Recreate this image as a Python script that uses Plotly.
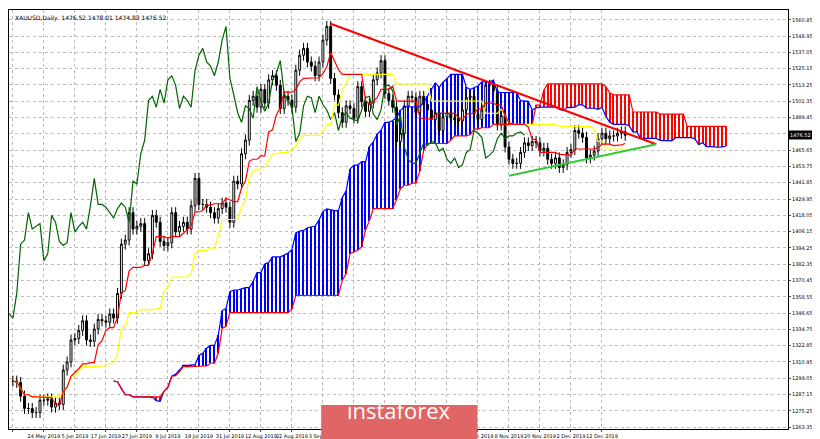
import numpy as np
import pandas as pd
import plotly.graph_objects as go

# daily closes, 14 May 2019 .. 20 Dec 2019 (business days)
closes = [
    1297, 1296, 1286, 1277, 1277, 1274, 1274, 1283, 1283, 1284,
    1278, 1281, 1280, 1305, 1311, 1327, 1328, 1334, 1341, 1327,
    1326, 1335, 1342, 1341, 1340, 1346, 1343, 1361, 1397, 1400,
    1420, 1408, 1410, 1412, 1385, 1390, 1418, 1413, 1399, 1396,
    1398, 1420, 1406, 1410, 1413, 1408, 1425, 1445, 1426, 1426,
    1424, 1420, 1416, 1423, 1427, 1424, 1413, 1443, 1441, 1463,
    1473, 1502, 1505, 1497, 1510, 1500, 1517, 1520, 1513, 1496,
    1505, 1502, 1497, 1524, 1535, 1540, 1530, 1527, 1520, 1530,
    1546, 1556, 1518, 1506, 1493, 1486, 1498, 1496, 1489, 1512,
    1501, 1494, 1500, 1517, 1522, 1531, 1507, 1502, 1497, 1472,
    1478, 1498, 1505, 1504, 1493, 1505, 1499, 1495, 1488, 1493,
    1480, 1490, 1493, 1489, 1488, 1487, 1495, 1504, 1505, 1492,
    1488, 1495, 1513, 1513, 1509, 1484, 1491, 1468, 1459, 1456,
    1456, 1464, 1471, 1469, 1472, 1471, 1465, 1467, 1459, 1456,
    1460, 1453, 1455, 1464, 1466, 1480, 1478, 1475, 1460, 1462,
    1465, 1474, 1478, 1474, 1476, 1476, 1478, 1479, 1476.52,
]
tick_labels = ["14 May 2019", "24 May 2019", "5 Jun 2019", "17 Jun 2019", "27 Jun 2019",
               "9 Jul 2019", "19 Jul 2019", "31 Jul 2019", "12 Aug 2019", "22 Aug 2019",
               "3 Sep 2019", "13 Sep 2019", "25 Sep 2019", "7 Oct 2019", "17 Oct 2019",
               "29 Oct 2019", "8 Nov 2019", "20 Nov 2019", "2 Dec 2019", "12 Dec 2019"]
red_line_x = [82, 166]
red_line_y = [1558, 1470]
green_line_x = [128, 166]
green_line_y = [1447, 1470]
price_ticks = [1263.35 + 11.9 * i for i in range(26)]

n = len(closes)
idx = np.arange(n)
c = pd.Series(closes, dtype=float)
o = c.shift(1).fillna(c.iloc[0])
h = pd.concat([o, c], axis=1).max(axis=1) + 4
l = pd.concat([o, c], axis=1).min(axis=1) - 4

tenkan = (h.rolling(9, min_periods=1).max() + l.rolling(9, min_periods=1).min()) / 2
kijun = (h.rolling(26, min_periods=1).max() + l.rolling(26, min_periods=1).min()) / 2
span_a = ((tenkan + kijun) / 2).values
span_b = ((h.rolling(52, min_periods=1).max() + l.rolling(52, min_periods=1).min()) / 2).values
cloud_x = idx + 26

fig = go.Figure()
bull = span_a >= span_b
for mask, col in [(bull, "blue"), (~bull, "red")]:
    fig.add_trace(go.Bar(x=cloud_x[mask], base=np.minimum(span_a, span_b)[mask],
                         y=np.abs(span_a - span_b)[mask], width=0.35,
                         marker=dict(color=col, line=dict(width=0)), showlegend=False))
fig.add_trace(go.Scatter(x=cloud_x, y=span_a, mode="lines", line=dict(color="blue", width=1.2)))
fig.add_trace(go.Scatter(x=cloud_x, y=span_b, mode="lines", line=dict(color="red", width=1.2)))
fig.add_trace(go.Scatter(x=idx - 26, y=c, mode="lines", line=dict(color="darkgreen", width=1.2)))
fig.add_trace(go.Scatter(x=idx, y=kijun, mode="lines", line=dict(color="yellow", width=1.2)))
fig.add_trace(go.Scatter(x=idx, y=tenkan, mode="lines", line=dict(color="red", width=1.2)))
fig.add_trace(go.Candlestick(x=idx, open=o, high=h, low=l, close=c,
                             increasing=dict(line=dict(color="black", width=1), fillcolor="white"),
                             decreasing=dict(line=dict(color="black", width=1), fillcolor="black")))
fig.add_trace(go.Scatter(x=red_line_x, y=red_line_y, mode="lines", line=dict(color="red", width=2)))
fig.add_trace(go.Scatter(x=green_line_x, y=green_line_y, mode="lines", line=dict(color="#33cc33", width=2)))

fig.add_annotation(x=1, y=closes[-1], xref="paper", yref="y", text=f"{closes[-1]:.2f}",
                   xanchor="left", showarrow=False, bgcolor="black",
                   font=dict(color="white", size=5), borderpad=1)
fig.add_annotation(x=0.005, y=0.995, xref="paper", yref="paper", xanchor="left", yanchor="top",
                   text="XAUUSD,Daily  1476.52 1478.01 1474.83 1476.52", showarrow=False,
                   font=dict(size=6, color="black"))
fig.add_shape(type="rect", xref="paper", yref="paper", x0=0.402, x1=0.6, y0=-0.045, y1=0.055,
              fillcolor="#e06666", line=dict(color="#e06666"))
fig.add_annotation(x=0.501, y=0.005, xref="paper", yref="paper", text="instaforex",
                   showarrow=False, font=dict(size=22, color="white", family="Open Sans"))

fig.update_layout(
    width=820, height=439, margin=dict(l=1, r=40, t=2, b=18),
    paper_bgcolor="white", plot_bgcolor="white", showlegend=False,
    bargap=0, barmode="overlay",
    font=dict(family="DejaVu Sans", size=5, color="black"),
)
fig.update_xaxes(range=[-1, 200], rangeslider_visible=False, tickmode="array",
                 tickvals=list(range(0, 160, 8)), ticktext=tick_labels, tickangle=0,
                 showgrid=True, gridcolor="#bbbbbb", griddash="dot",
                 showline=True, linecolor="black", mirror=True, ticks="outside", ticklen=2)
fig.update_yaxes(side="right", range=[1262, 1568], tickmode="array", tickvals=price_ticks,
                 ticktext=[f"{v:.2f}" for v in price_ticks],
                 showgrid=True, gridcolor="#bbbbbb", griddash="dot",
                 showline=True, linecolor="black", mirror=True, ticks="outside", ticklen=2)

fig.write_html("out.html")
